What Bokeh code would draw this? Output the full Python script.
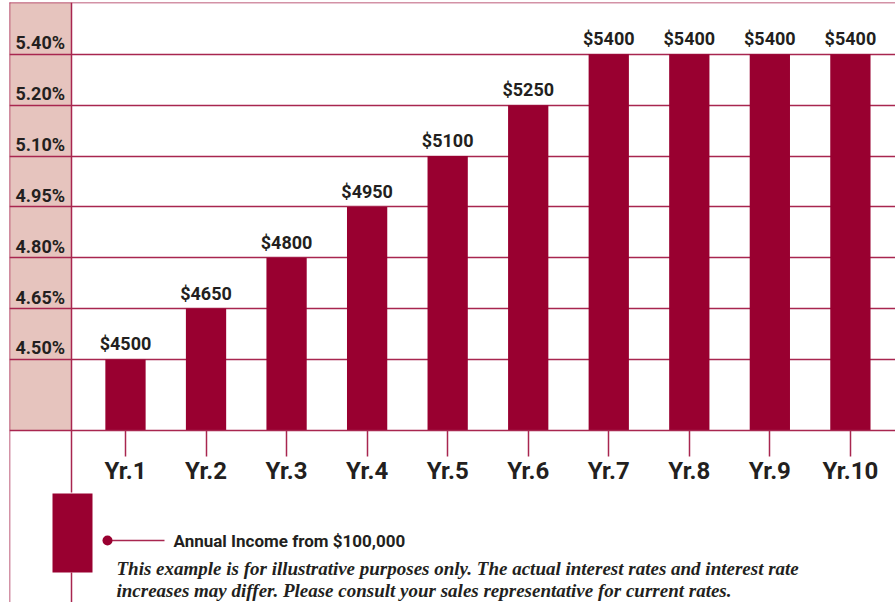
from bokeh.plotting import figure
from bokeh.models import Range1d, FixedTicker, BoxAnnotation, Label
from bokeh.core.properties import value
from bokeh.embed import file_html
from bokeh.resources import INLINE

# ---- data ----
years = ["Yr.1", "Yr.2", "Yr.3", "Yr.4", "Yr.5", "Yr.6", "Yr.7", "Yr.8", "Yr.9", "Yr.10"]
income = [4500, 4650, 4800, 4950, 5100, 5250, 5400, 5400, 5400, 5400]
rate_levels = [4500, 4650, 4800, 4950, 5100, 5250, 5400]
rate_labels = ["4.50%", "4.65%", "4.80%", "4.95%", "5.10%", "5.20%", "5.40%"]
legend_label = "Annual Income from $100,000"
note_lines = [
    "This example is for illustrative purposes only. The actual interest rates and interest rate",
    "increases may differ. Please consult your sales representative for current rates.",
]

# ---- style ----
CRIMSON = "#990030"
LINE = "#A8264F"
PINK = "#E6C4BE"
INK = "#231F20"
SANS = "Roboto"
SERIF = "Liberation Serif"

W, H = 895, 602
BASE = 4290          # value at the baseline of the bars
Y_LO, Y_HI = 3783, 5553
X0, X1 = -0.44, 10.56
xs = list(range(1, len(years) + 1))

p = figure(width=W, height=H, x_range=Range1d(X0, X1), y_range=Range1d(Y_LO, Y_HI),
           output_backend="svg", toolbar_location=None, y_axis_location=None,
           min_border_left=9, min_border_right=0, min_border_top=2, min_border_bottom=0)
p.xgrid.visible = False
p.outline_line_color = None
p.background_fill_color = "white"
p.border_fill_color = "white"

g = p.ygrid[0]
g.ticker = FixedTicker(ticks=rate_levels)
g.grid_line_color = LINE
g.grid_line_width = 1.5
g.minor_grid_line_color = None


def deco(l, r, t, b, color, **kw):
    return BoxAnnotation(left=l, right=r, top=t, bottom=b,
                         left_units="canvas", right_units="canvas",
                         top_units="canvas", bottom_units="canvas",
                         fill_color=color, fill_alpha=1, **kw)


# pink rate column
p.add_layout(deco(9, 71, 2, 430, PINK, line_color=None, level="image"))
p.add_layout(deco(70.25, 71.75, 2, 492, LINE, line_color=None, level="image"))
p.add_layout(deco(70.25, 71.75, 572, 602, LINE, line_color=None, level="image"))
p.add_layout(deco(8.25, 9.75, 1, 602, LINE, line_color=None))
p.add_layout(deco(0, 895, 1.25, 2.75, LINE, line_color=None))

p.vbar(x=xs, top=income, bottom=BASE, width=0.5, fill_color=CRIMSON, line_color=None)

p.text(x=xs, y=income, text=[f"${v}" for v in income], text_align="center",
       text_baseline="bottom", y_offset=-5, text_font=value(SANS),
       text_font_style="bold", text_font_size="18px", text_color=INK)

p.text(x=[X0] * len(rate_levels), y=rate_levels, text=rate_labels, x_offset=6,
       y_offset=-1, text_align="left", text_baseline="bottom", text_font=value(SANS),
       text_font_style="bold", text_font_size="18px", text_color=INK)

ax = p.xaxis[0]
ax.fixed_location = BASE
ax.ticker = FixedTicker(ticks=xs)
ax.major_label_overrides = {x: y for x, y in zip(xs, years)}
ax.axis_line_color = LINE
ax.axis_line_width = 1.5
ax.major_tick_line_color = LINE
ax.major_tick_line_width = 1.5
ax.major_tick_out = 26
ax.major_tick_in = 0
ax.minor_tick_out = 0
ax.minor_tick_in = 0
ax.major_label_standoff = 0
ax.major_label_text_font = SANS
ax.major_label_text_font_style = "bold"
ax.major_label_text_font_size = "24px"
ax.major_label_text_color = INK

# legend and note
p.add_layout(deco(52, 92, 493, 572, CRIMSON, line_color=None))
p.add_layout(deco(107, 164, 539.25, 540.75, LINE, line_color=None))
p.add_layout(deco(102, 112, 535, 545, CRIMSON, line_color=None, border_radius=5))

p.add_layout(Label(x=173, y=540, x_units="canvas", y_units="canvas", text=legend_label,
                   text_baseline="middle", text_font=SANS, text_font_style="bold",
                   text_font_size="17px", text_color=INK))
for i, line in enumerate(note_lines):
    p.add_layout(Label(x=116, y=568 + 22 * i, x_units="canvas", y_units="canvas",
                       text=line, text_baseline="alphabetic", text_font=SERIF,
                       text_font_style="bold italic", text_font_size="19px",
                       text_color=INK))

open("out.html", "w").write(file_html(p, INLINE))
